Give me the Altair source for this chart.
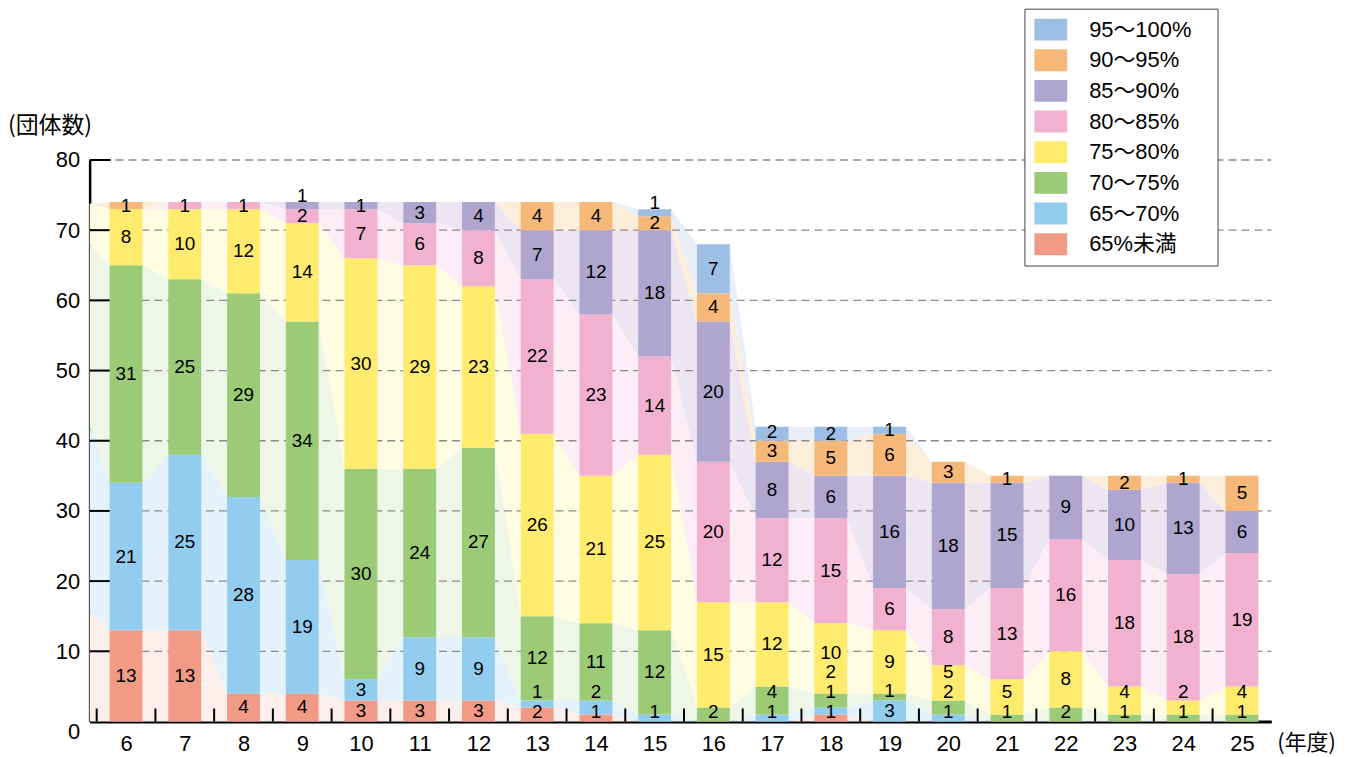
import altair as alt
import pandas as pd

# ---------------- data ----------------
years = list(range(6, 26))
categories = ["65%未満", "65～70%", "70～75%", "75～80%", "80～85%", "85～90%", "90～95%", "95～100%"]

under65 = [13, 13, 4, 4, 3, 3, 3, 2, 1, 0, 0, 0, 1, 0, 0, 0, 0, 0, 0, 0]
r65_70 = [21, 25, 28, 19, 3, 9, 9, 1, 2, 1, 0, 1, 1, 3, 1, 0, 0, 0, 0, 0]
r70_75 = [31, 25, 29, 34, 30, 24, 27, 12, 11, 12, 2, 4, 2, 1, 2, 1, 2, 1, 1, 1]
r75_80 = [8, 10, 12, 14, 30, 29, 23, 26, 21, 25, 15, 12, 10, 9, 5, 5, 8, 4, 2, 4]
r80_85 = [0, 1, 1, 2, 7, 6, 8, 22, 23, 14, 20, 12, 15, 6, 8, 13, 16, 18, 18, 19]
r85_90 = [0, 0, 0, 1, 1, 3, 4, 7, 12, 18, 20, 8, 6, 16, 18, 15, 9, 10, 13, 6]
r90_95 = [1, 0, 0, 0, 0, 0, 0, 4, 4, 2, 4, 3, 5, 6, 3, 1, 0, 2, 1, 5]
r95_100 = [0, 0, 0, 0, 0, 0, 0, 0, 0, 1, 7, 2, 2, 1, 0, 0, 0, 0, 0, 0]
series = [under65, r65_70, r70_75, r75_80, r80_85, r85_90, r90_95, r95_100]

# band thickness of the faded bands where they meet the left axis
left_edge = [15.7, 26.3, 26.0, 5.8, 0, 0, 0, 0]

y_ticks = [10, 20, 30, 40, 50, 60, 70, 80]
y_labels = [0, 10, 20, 30, 40, 50, 60, 70, 80]

bar_colors = ["#F19A86", "#92CDEF", "#9BCB76", "#FFEB6E", "#F2B2CF", "#AEA6CF", "#F5B878", "#9EBFE5"]
fade_colors = ["#FCEEEA", "#E3F2FB", "#EEF6E8", "#FFFCE2", "#FDEDF4", "#EBE6F1", "#FDEEDC", "#E8EFF9"]

# ---------------- tables ----------------
HALF = 0.28
bar_rows, area_rows, lab_rows = [], [], []
for i, yr in enumerate(years):
    base = 0
    prev = -10
    for c, cat in enumerate(categories):
        v = series[c][i]
        lo, hi = base, base + v
        if v > 0:
            bar_rows.append(dict(x1=yr - HALF, x2=yr + HALF, lo=lo, hi=hi, cat=cat))
            ly = max((lo + hi) / 2, prev + 2.8, 1.4)
            lab_rows.append(dict(x=yr, y=ly, t=str(v)))
            prev = ly
        area_rows.append(dict(x=yr - HALF, lo=lo, hi=hi, cat=cat))
        area_rows.append(dict(x=yr + HALF, lo=lo, hi=hi, cat=cat))
        base = hi
base = 0
for c, cat in enumerate(categories):
    area_rows.append(dict(x=5.38, lo=base, hi=base + left_edge[c], cat=cat))
    base += left_edge[c]

bar_df = pd.DataFrame(bar_rows)
area_df = pd.DataFrame(area_rows).sort_values(["cat", "x"]).reset_index(drop=True)
lab_df = pd.DataFrame(lab_rows)
xtick_df = pd.DataFrame({"t": [y - 0.5 for y in years]})
ytick_df = pd.DataFrame({"v": y_ticks})

W, H = 1187, 564
NUM_FONT = "Liberation Sans, Arial, sans-serif"
LAB_FONT = "Liberation Sans Narrow, Liberation Sans, Arial, sans-serif"
LEG_FONT = "Liberation Sans, Noto Sans CJK JP, DejaVu Sans, sans-serif"

x_scale = alt.Scale(domain=[5.38, 25.5], nice=False, zero=False)
y_scale = alt.Scale(domain=[0, 80], nice=False, zero=True)

X_AXIS = alt.Axis(values=years, format="d", title=None, ticks=False, tickSize=0, grid=False,
                  domainColor="black", domainWidth=3, labelFontSize=22, labelFont=NUM_FONT,
                  labelColor="black", labelPadding=12)
Y_AXIS = alt.Axis(values=y_labels, format="d", title=None, ticks=False, tickSize=0, grid=False,
                  domainColor="black", domainWidth=2.5, labelFontSize=22, labelFont=NUM_FONT,
                  labelColor="black", labelPadding=10,
                  labelOffset={"condition": {"test": "datum.value === 0", "value": 10}, "value": 0})

area = alt.Chart(area_df).mark_area(interpolate="linear", orient="vertical", opacity=1).encode(
    x=alt.X("x:Q", scale=x_scale, axis=X_AXIS),
    y=alt.Y("lo:Q", scale=y_scale, axis=Y_AXIS, stack=None),
    y2="hi:Q",
    color=alt.Color("cat:N", scale=alt.Scale(domain=categories, range=fade_colors), legend=None),
)

grid = alt.Chart(ytick_df).mark_rule(color="#8a8a8a", strokeDash=[8, 5], strokeWidth=1.3).encode(
    y=alt.Y("v:Q", scale=y_scale, axis=Y_AXIS),
    x=alt.value(0),
    x2=alt.value(W),
)

yticks = alt.Chart(ytick_df).mark_rule(color="black", strokeWidth=2).encode(
    y=alt.Y("v:Q", scale=y_scale, axis=Y_AXIS),
    x=alt.value(0),
    x2=alt.value(21),
)

xticks = alt.Chart(xtick_df).mark_rule(color="black", strokeWidth=2).encode(
    x=alt.X("t:Q", scale=x_scale, axis=X_AXIS),
    y=alt.value(H),
    y2=alt.value(H - 13),
)

bars = alt.Chart(bar_df).mark_rect().encode(
    x=alt.X("x1:Q", scale=x_scale, axis=X_AXIS),
    x2="x2:Q",
    y=alt.Y("lo:Q", scale=y_scale, axis=Y_AXIS, stack=None),
    y2="hi:Q",
    color=alt.Color(
        "cat:N",
        scale=alt.Scale(domain=categories[::-1], range=bar_colors[::-1]),
        legend=alt.Legend(
            title=None, orient="none", legendX=939, legendY=-152, direction="vertical",
            symbolType="M-1,-1H2V1H-1Z", symbolSize=484, symbolStrokeWidth=0, symbolOpacity=1,
            labelFontSize=22, labelFont=LEG_FONT, labelColor="black", labelOffset=33,
            labelExpr="datum.label + '\u2800'",
            rowPadding=8.8, padding=10, strokeColor="#444", fillColor="white", labelLimit=400,
        ),
    ),
)

labels = alt.Chart(lab_df).mark_text(fontSize=19, font=LAB_FONT, color="black", baseline="middle").encode(
    x=alt.X("x:Q", scale=x_scale, axis=X_AXIS),
    y=alt.Y("y:Q", scale=y_scale, axis=Y_AXIS),
    text="t:N",
)

ylab = alt.Chart(pd.DataFrame({"t": ["(団体数)"]})).mark_text(
    fontSize=23, font="Noto Sans CJK JP", align="left", baseline="middle", color="black"
).encode(x=alt.value(-82), y=alt.value(-34), text="t:N")

xlab = alt.Chart(pd.DataFrame({"t": ["(年度)"]})).mark_text(
    fontSize=22, font="Noto Sans CJK JP", align="left", baseline="middle", color="black"
).encode(x=alt.value(1193), y=alt.value(586), text="t:N")

chart = alt.layer(area, grid, yticks, xticks, bars, labels, ylab, xlab).resolve_scale(
    color="independent"
).properties(
    width=W, height=H,
    autosize=alt.AutoSizeParams(type="none"),
    padding={"left": 82, "top": 151, "right": 70, "bottom": 34},
).configure_view(stroke=None)

chart.save("out.html", embed_options={"renderer": "svg", "actions": False})
